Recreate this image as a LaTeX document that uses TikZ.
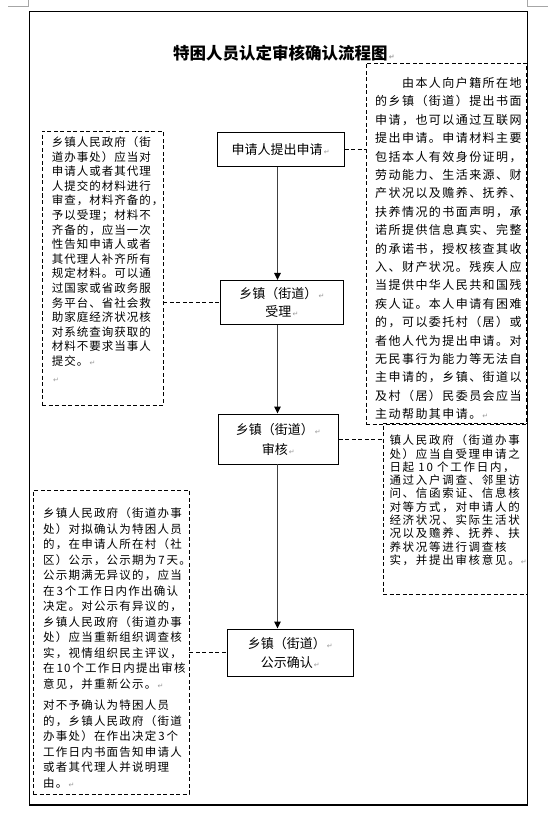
\documentclass[tikz,border=0pt]{standalone}
\usepackage{fontspec}
\usetikzlibrary{arrows.meta}
\setmainfont{Noto Sans CJK SC}
\newfontfamily\cjk{Noto Sans CJK SC}
\newfontfamily\cjkRT[LetterSpace=12]{Noto Sans CJK SC}
\newfontfamily\cjkLT[LetterSpace=8.7]{Noto Sans CJK SC}
\newfontfamily\cjkRM[LetterSpace=14.8]{Noto Sans CJK SC}
\newfontfamily\cjkLB[LetterSpace=10.5]{Noto Sans CJK SC}
\newfontfamily\symf{DejaVu Sans}
\newcommand\pmk{{\color{black!40}\symf\fontsize{7}{7}\selectfont\,↵}}
\begin{document}
\begin{tikzpicture}[x=1pt,y=-1pt,
  mainbox/.style={draw=black,line width=0.9pt,inner sep=0pt,align=center,
    font=\cjk\fontsize{13}{18}\selectfont},
  dbox/.style={draw=black,line width=0.9pt,dash pattern=on 4pt off 2.5pt,inner sep=0pt},
  dconn/.style={draw=black,line width=0.9pt,dash pattern=on 4pt off 2.5pt},
  arr/.style={draw=black!75,line width=1.3pt,-{Triangle[length=7pt,width=6.5pt,color=black]}},
  ptxt/.style={anchor=north west,inner sep=0pt,align=left}]
\useasboundingbox (0,0) rectangle (558,824);
% page corner marks
\draw[black!35,line width=0.8pt] (8,6) -- (28.7,6) -- (28.7,0);
\draw[black!35,line width=0.8pt] (527.3,0) -- (527.3,6.3) -- (548,6.3);
% frame
\draw[line width=1.2pt] (29.5,11.5) rectangle (527.5,805);
% title
\node[anchor=west,inner sep=0pt,font=\cjk\bfseries\fontsize{16.5}{18}\selectfont] (title) at (173,53) {特困人员认定审核确认流程图\pmk};
% main boxes
\node[mainbox,minimum width=126.7pt,minimum height=33.7pt] (b1) at (280.7,149.8) {申请人提出申请\pmk};
\node[mainbox,minimum width=122.6pt,minimum height=44.1pt,font=\cjk\fontsize{13}{17.6}\selectfont] (b2) at (282,302.4) {乡镇（街道）\pmk\\受理\pmk};
\node[mainbox,minimum width=120pt,minimum height=50pt,font=\cjk\fontsize{13}{20}\selectfont] (b3) at (278.3,439) {乡镇（街道）\pmk\\审核\pmk};
\node[mainbox,minimum width=126pt,minimum height=47pt,font=\cjk\fontsize{13}{19}\selectfont] (b4) at (290.3,652.5) {乡镇（街道）\pmk\\公示确认\pmk};
\coordinate (ax) at (277.5,0);
\draw[arr] (b1.south -| ax) -- (b2.north -| ax);
\draw[arr] (b2.south -| ax) -- (b3.north -| ax);
\draw[arr] (b3.south -| ax) -- (b4.north -| ax);
% dashed boxes
\node[dbox,minimum width=160pt,minimum height=361pt] (rt) at (446,243.5) {};
\node[dbox,minimum width=121pt,minimum height=274pt] (lt) at (102.5,268) {};
\node[dbox,minimum width=144pt,minimum height=171pt] (rm) at (455,508.5) {};
\node[dbox,minimum width=156pt,minimum height=304pt] (lb) at (111,642) {};
% connectors
\draw[dconn] (b1.east) -- (rt.west |- b1.east);
\draw[dconn] (lt.east |- b2.west) -- (b2.west);
\draw[dconn] (b3.east) -- (rm.west |- b3.east);
\draw[dconn] (lb.east |- b4.west) -- (b4.west);
% texts
\node[ptxt,font=\cjkRT\fontsize{12}{18.4}\selectfont] (rtt) at (375,77.2) {%
\hspace*{26.9pt}由本人向户籍所在地\\
的乡镇（街道）提出书面\\
申请，也可以通过互联网\\
提出申请。申请材料主要\\
包括本人有效身份证明，\\
劳动能力、生活来源、财\\
产状况以及赡养、抚养、\\
扶养情况的书面声明，承\\
诺所提供信息真实、完整\\
的承诺书，授权核查其收\\
入、财产状况。残疾人应\\
当提供中华人民共和国残\\
疾人证。本人申请有困难\\
的，可以委托村（居）或\\
者他人代为提出申请。对\\
无民事行为能力等无法自\\
主申请的，乡镇、街道以\\
及村（居）民委员会应当\\
主动帮助其申请。\pmk};
\node[ptxt,font=\cjkLT\fontsize{11.5}{14.6}\selectfont] (ltt) at (51.7,136.4) {%
乡镇人民政府（街\\
道办事处）应当对\\
申请人或者其代理\\
人提交的材料进行\\
审查，材料齐备的，\\
予以受理；材料不\\
齐备的，应当一次\\
性告知申请人或者\\
其代理人补齐所有\\
规定材料。可以通\\
过国家或省政务服\\
务平台、省社会救\\
助家庭经济状况核\\
对系统查询获取的\\
材料不要求当事人\\
提交。\pmk\\[2pt]
\pmk};
\node[ptxt,font=\cjkRM\fontsize{11.5}{13.3}\selectfont] (rmt) at (389.3,434.7) {%
镇人民政府（街道办事\\
处）应当自受理申请之\\
日起 10 个工作日内，\\
通过入户调查、邻里访\\
问、信函索证、信息核\\
对等方式，对申请人的\\
经济状况、实际生活状\\
况以及赡养、抚养、扶\\
养状况等进行调查核\\
实，并提出审核意见。\pmk};
\node[ptxt,font=\cjkLB\fontsize{11.5}{15.5}\selectfont] (lbt) at (43,507.7) {%
乡镇人民政府（街道办事\\
处）对拟确认为特困人员\\
的，在申请人所在村（社\\
区）公示，公示期为\,7\,天。\\
公示期满无异议的，应当\\
在\,3\,个工作日内作出确认\\
决定。对公示有异议的，\\
乡镇人民政府（街道办事\\
处）应当重新组织调查核\\
实，视情组织民主评议，\\
在\,10\,个工作日内提出审核\\
意见，并重新公示。\pmk\\[6pt]
对不予确认为特困人员\\
的，乡镇人民政府（街道\\
办事处）在作出决定\,3\,个\\
工作日内书面告知申请人\\
或者其代理人并说明理\\
由。\pmk};
\end{tikzpicture}
\end{document}
